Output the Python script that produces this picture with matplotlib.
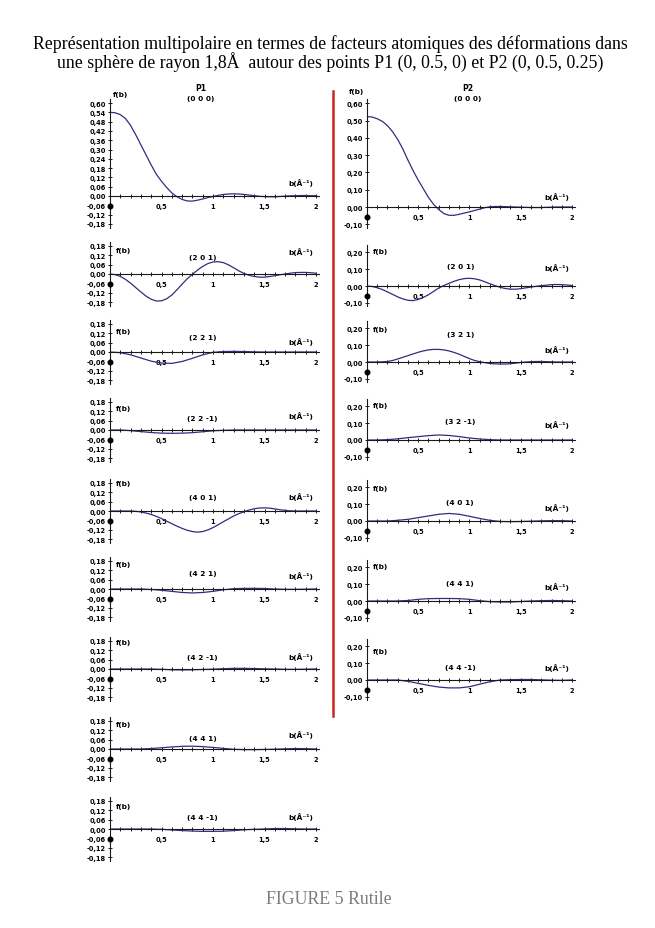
import numpy as np
import matplotlib
matplotlib.use('Agg')
import matplotlib.pyplot as plt
from matplotlib.lines import Line2D
from matplotlib.ticker import FixedLocator, MultipleLocator, FuncFormatter
import matplotlib.transforms as mtransforms

# abscisses b (Å-1)
B_FINE = np.linspace(0, 2, 41)   # pas 0.05
B = np.linspace(0, 2, 21)        # pas 0.1

# P1 (0, 0.5, 0)
P1_000 = [0.54, 0.537, 0.525, 0.50, 0.455, 0.395, 0.33, 0.265, 0.20, 0.14,
          0.095, 0.055, 0.02, -0.005, -0.022, -0.032, -0.033, -0.027, -0.019, -0.01,
          -0.003, 0.004, 0.01, 0.013, 0.014, 0.013, 0.01, 0.006, 0.002, -0.002,
          -0.004, -0.005, -0.005, -0.003, -0.001, 0.001, 0.002, 0.003, 0.003, 0.002, 0.002]
P1_201 = [0, -0.004, -0.015, -0.034, -0.058, -0.086, -0.114, -0.14, -0.16, -0.171,
          -0.17, -0.157, -0.133, -0.1, -0.064, -0.03, -0.002, 0.025, 0.048, 0.066,
          0.076, 0.078, 0.072, 0.058, 0.04, 0.02, 0.004, -0.008, -0.016, -0.02,
          -0.02, -0.016, -0.011, -0.005, 0.0, 0.005, 0.009, 0.01, 0.01, 0.008, 0.005]
P1_221 = [0, -0.004, -0.018, -0.038, -0.058, -0.07, -0.072, -0.06, -0.04, -0.018, -0.002,
          0.003, 0.004, 0.003, 0.001, 0, 0, 0, 0, 0, 0]
P1_22M1 = [0, 0, -0.004, -0.01, -0.016, -0.02, -0.021, -0.02, -0.017, -0.011, -0.005,
           -0.002, 0, 0, 0, 0, 0, 0, 0, 0, 0]
P1_401 = [0, 0, 0, 0, 0, -0.002, -0.006, -0.013, -0.022, -0.034,
          -0.048, -0.064, -0.08, -0.096, -0.11, -0.122, -0.13, -0.134, -0.13, -0.12,
          -0.105, -0.087, -0.068, -0.05, -0.032, -0.017, -0.005, 0.006, 0.014, 0.019,
          0.02, 0.018, 0.013, 0.008, 0.004, 0.001, 0, 0, 0, 0, 0]
P1_421 = [0, 0, 0, 0, -0.003, -0.008, -0.015, -0.022, -0.025, -0.022, -0.015,
          -0.005, 0.002, 0.004, 0.004, 0.003, 0.0, -0.002, -0.002, -0.001, 0]
P1_42M1 = [0, 0, 0, 0, 0, -0.002, -0.005, -0.006, -0.005, -0.003, -0.001,
           0.002, 0.004, 0.004, 0.003, 0.001, 0, -0.002, -0.002, -0.001, 0]
P1_441 = [0, 0, 0, 0, 0.003, 0.008, 0.013, 0.017, 0.018, 0.015, 0.01,
          0.004, -0.002, -0.004, -0.004, -0.003, -0.001, 0.001, 0.003, 0.002, 0]
P1_44M1 = [0, 0, 0, 0, 0, -0.002, -0.006, -0.01, -0.013, -0.015, -0.015,
           -0.014, -0.01, -0.005, -0.002, 0.0, 0.003, 0.003, 0.001, 0, 0]

# P2 (0, 0.5, 0.25)
P2_000 = [0.523, 0.52, 0.51, 0.495, 0.47, 0.435, 0.39, 0.335, 0.27, 0.21,
          0.155, 0.105, 0.055, 0.015, -0.015, -0.038, -0.048, -0.048, -0.042, -0.035,
          -0.028, -0.02, -0.012, -0.004, 0.001, 0.003, 0.003, 0.002, 0.001, 0.0,
          -0.001, -0.002, -0.003, -0.003, -0.003, -0.002, -0.001, 0.0, 0.0, 0.0, 0.0]
P2_201 = [0, -0.003, -0.01, -0.021, -0.035, -0.05, -0.065, -0.077, -0.085, -0.087,
          -0.08, -0.068, -0.052, -0.032, -0.012, 0.003, 0.016, 0.028, 0.038, 0.044,
          0.046, 0.043, 0.036, 0.025, 0.013, 0.002, -0.008, -0.015, -0.019, -0.019,
          -0.016, -0.011, -0.006, -0.002, 0.002, 0.005, 0.008, 0.009, 0.008, 0.006, 0.003]
P2_321 = [0, 0, 0, 0.001, 0.003, 0.009, 0.018, 0.028, 0.038, 0.048,
          0.058, 0.066, 0.072, 0.075, 0.075, 0.072, 0.066, 0.057, 0.046, 0.033,
          0.02, 0.009, 0.002, -0.004, -0.009, -0.011, -0.012, -0.012, -0.01, -0.007,
          -0.003, 0, 0.002, 0.003, 0.003, 0.002, 0.001, 0, 0, 0, 0]
P2_32M1 = [0, 0, 0.002, 0.007, 0.014, 0.02, 0.026, 0.03, 0.027, 0.02, 0.012,
           0.006, 0.002, 0, 0, 0, 0, 0, 0, 0, 0]
P2_401 = [0, 0, 0, 0.004, 0.01, 0.02, 0.03, 0.04, 0.045, 0.04, 0.028,
          0.015, 0.004, -0.003, -0.004, -0.003, -0.001, 0.001, 0.002, 0.002, 0]
P2_441 = [0, 0, 0, 0, 0.003, 0.01, 0.014, 0.015, 0.015, 0.014, 0.01,
          0.002, -0.004, -0.006, -0.006, -0.003, 0, 0.002, 0.003, 0.002, 0]
P2_44M1 = [0, 0, 0, 0, -0.008, -0.02, -0.032, -0.042, -0.047, -0.047, -0.04,
           -0.025, -0.01, 0, 0.002, 0.003, 0.003, 0.001, -0.001, -0.002, 0]

P1_LABELS = ['(0 0 0)', '(2 0 1)', '(2 2 1)', '(2 2 -1)', '(4 0 1)',
             '(4 2 1)', '(4 2 -1)', '(4 4 1)', '(4 4 -1)']
P1_SERIES = [P1_000, P1_201, P1_221, P1_22M1, P1_401, P1_421, P1_42M1, P1_441, P1_44M1]
P2_LABELS = ['(0 0 0)', '(2 0 1)', '(3 2 1)', '(3 2 -1)', '(4 0 1)', '(4 4 1)', '(4 4 -1)']
P2_SERIES = [P2_000, P2_201, P2_321, P2_32M1, P2_401, P2_441, P2_44M1]

XTICK_LABELS = ['0,5', '1', '1,5', '2']

# mise en page (pixels de l'image 655x929)
W, H = 655, 929
P1_ZEROS = [197, 275, 353, 431, 512, 590, 670, 750, 830]
P2_ZEROS = [208, 287, 363, 441, 522, 602, 681]
# positions y (donnees) de f(b), du titre, de b(A-1)
P1_TXT = [(0.66, 0.63, 0.09), (0.15, 0.108, 0.146), (0.13, 0.095, 0.07), (0.14, 0.076, 0.095),
          (0.177, 0.09, 0.095), (0.158, 0.10, 0.09), (0.17, 0.076, 0.08), (0.158, 0.07, 0.095),
          (0.146, 0.076, 0.082)]
P2_TXT = [(0.67, 0.63, 0.064), (0.21, 0.12, 0.113), (0.196, 0.167, 0.077), (0.21, 0.113, 0.095),
          (0.196, 0.113, 0.083), (0.208, 0.107, 0.089), (0.173, 0.077, 0.077)]

LINE_COLOR = '#2e2e80'
AX_COLOR = '#1a1a1a'
FS = 4.8

fig = plt.figure(figsize=(W / 100, H / 100), dpi=100)
fig.patch.set_facecolor('white')


def comma(v, pos=None):
    return f"{v:.2f}".replace('.', ',')


def make_panel(x0, xunit, zero, yscale, ylo, yhi, yticks):
    left = x0 / W
    width = 2.03 * xunit / W
    top_px = zero - yhi * yscale
    bot_px = zero - ylo * yscale
    ax = fig.add_axes([left, 1 - bot_px / H, width, (bot_px - top_px) / H])
    ax.set_xlim(0, 2.03)
    ax.set_ylim(ylo, yhi)
    ax.patch.set_alpha(0)
    for s in ['top', 'right']:
        ax.spines[s].set_visible(False)
    ax.spines['bottom'].set_position(('data', 0))
    for s in ['left', 'bottom']:
        ax.spines[s].set_color(AX_COLOR)
        ax.spines[s].set_linewidth(0.8)
    ax.xaxis.set_major_locator(FixedLocator([0.5, 1, 1.5, 2]))
    ax.xaxis.set_minor_locator(MultipleLocator(0.1))
    ax.set_xticklabels(XTICK_LABELS)
    ax.yaxis.set_major_locator(FixedLocator(yticks))
    ax.yaxis.set_major_formatter(FuncFormatter(comma))
    ax.tick_params(axis='both', which='both', direction='inout', color=AX_COLOR,
                   width=0.7, labelsize=FS, pad=1.5)
    ax.tick_params(axis='x', which='major', length=3.5, pad=3)
    ax.tick_params(axis='x', which='minor', length=3)
    ax.tick_params(axis='y', length=3)
    for lab in ax.get_xticklabels() + ax.get_yticklabels():
        lab.set_fontweight('bold')
    # point noir a l'origine
    tr = mtransforms.offset_copy(ax.transData, fig=fig, x=0, y=-9.5, units='dots')
    ax.plot([0], [0], 'o', color='black', ms=3.3, transform=tr, clip_on=False, zorder=5)
    return ax


def label_panel(ax, name, txt, fb_x, fb_ha, title_x):
    fb_y, t_y, b_y = txt
    kw = dict(fontsize=5.3, fontweight='bold', color='black', clip_on=False)
    ax.text(fb_x, fb_y, 'f(b)', ha=fb_ha, va='center', **kw)
    ax.text(title_x, t_y, name, ha='center', va='center', **kw)
    ax.text(1.97, b_y, 'b(Å⁻¹)', ha='right', va='center', **kw)


def draw_curve(ax, vals):
    xs = B_FINE if len(vals) == len(B_FINE) else B
    ax.plot(xs, vals, color=LINE_COLOR, lw=0.9)


# colonne P1
for i, (name, vals) in enumerate(zip(P1_LABELS, P1_SERIES)):
    if i == 0:
        ax = make_panel(110, 103, P1_ZEROS[i], 155, -0.205, 0.625,
                        np.round(np.arange(-0.18, 0.61, 0.06), 2))
        ax.text(0.88, 0.70, 'P1', ha='center', va='center', fontsize=5.6,
                fontweight='bold', clip_on=False)
        label_panel(ax, name, P1_TXT[i], 0.03, 'left', 0.88)
    else:
        ax = make_panel(110, 103, P1_ZEROS[i], 158, -0.205, 0.205,
                        np.round(np.arange(-0.18, 0.19, 0.06), 2))
        label_panel(ax, name, P1_TXT[i], 0.06, 'left', 0.9)
    draw_curve(ax, vals)

# colonne P2
for i, (name, vals) in enumerate(zip(P2_LABELS, P2_SERIES)):
    if i == 0:
        ax = make_panel(367, 102.5, P2_ZEROS[i], 173, -0.12, 0.625,
                        np.round(np.arange(-0.1, 0.61, 0.1), 2))
        ax.text(0.98, 0.69, 'P2', ha='center', va='center', fontsize=5.6,
                fontweight='bold', clip_on=False)
        label_panel(ax, name, P2_TXT[i], -0.03, 'right', 0.98)
    else:
        ax = make_panel(367, 102.5, P2_ZEROS[i], 168, -0.12, 0.245,
                        np.round(np.arange(-0.1, 0.21, 0.1), 2))
        label_panel(ax, name, P2_TXT[i], 0.06, 'left', 0.91)
    draw_curve(ax, vals)

# trait rouge de separation
fig.add_artist(Line2D([333 / W, 333 / W], [1 - 92 / H, 1 - 717 / H],
                      color='#c8281e', lw=1.8))

fig.text(330 / W, 1 - 44 / H,
         'Représentation multipolaire en termes de facteurs atomiques des déformations dans',
         ha='center', va='center', fontsize=12.8, family='Liberation Serif')
fig.text(330 / W, 1 - 62 / H,
         'une sphère de rayon 1,8Å  autour des points P1 (0, 0.5, 0) et P2 (0, 0.5, 0.25)',
         ha='center', va='center', fontsize=12.8, family='Liberation Serif')
fig.text(329 / W, 1 - 900 / H, 'FIGURE 5 Rutile', ha='center', va='center',
         fontsize=12.8, family='Liberation Serif', color='#7a7a7a')

fig.savefig('out.png', dpi=100, facecolor='white')
